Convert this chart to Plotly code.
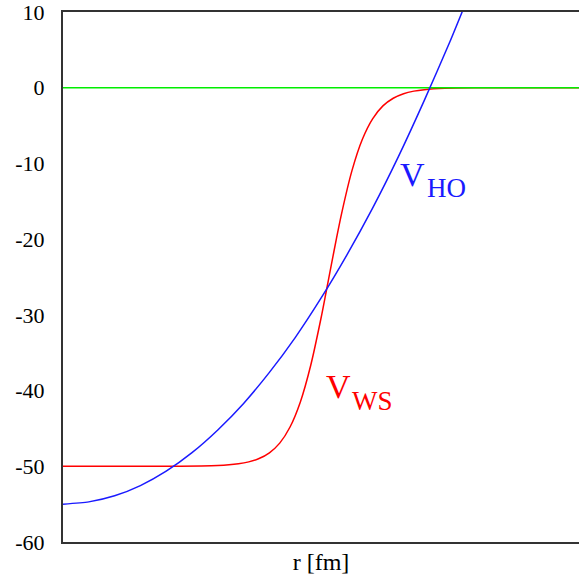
import plotly.graph_objects as go

# harmonic oscillator potential
r_ho = [0, 0.5, 1, 1.5, 2, 2.5, 3, 3.5, 4, 4.5, 5, 5.5, 6, 6.5, 7, 7.5, 7.8]
v_ho = [-55, -54.7, -53.9, -52.55, -50.65, -48.2, -45.2, -41.7, -37.6, -33.0,
        -27.8, -22.1, -15.9, -9.1, -1.7, 6.1, 11.1]

# Woods-Saxon potential
r_ws = [0, 1, 2, 3, 3.4, 3.6, 3.8, 4.0, 4.2, 4.4, 4.6, 4.8, 5.0, 5.1, 5.2,
        5.3, 5.4, 5.6, 5.8, 6.0, 6.2, 6.4, 6.6, 6.8, 7.0, 7.4, 8, 10]
v_ws = [-50, -50, -50, -49.9, -49.67, -49.42, -48.98, -48.22, -46.94, -44.81,
        -41.5, -36.69, -30.45, -26.95, -23.4, -19.9, -16.59, -10.95, -6.84,
        -4.11, -2.4, -1.39, -0.79, -0.45, -0.26, -0.08, -0.015, 0]

# zero line
r_zero = [0, 10]
v_zero = [0, 0]

y_ticks = [10, 0, -10, -20, -30, -40, -50, -60]

fig = go.Figure()
fig.add_trace(go.Scatter(x=r_ws, y=v_ws, mode="lines",
                         line=dict(color="#ff0000", width=1.5, shape="spline", smoothing=0.8)))
fig.add_trace(go.Scatter(x=r_zero, y=v_zero, mode="lines",
                         line=dict(color="#00ee00", width=1.5), hoverinfo="skip"))
fig.add_trace(go.Scatter(x=r_ho, y=v_ho, mode="lines",
                         line=dict(color="#1a1aff", width=1.5, shape="spline", smoothing=0.6)))

font_serif = "Liberation Serif"

fig.update_layout(
    width=579, height=584,
    margin=dict(l=63, r=0, t=12, b=42),
    plot_bgcolor="white", paper_bgcolor="white",
    showlegend=False,
    font=dict(family=font_serif, size=22, color="black"),
    xaxis=dict(range=[0, 10], showticklabels=False, ticks="", showgrid=False,
               zeroline=False, showline=True, linecolor="#333333", linewidth=2,
               mirror=True,
               title=dict(text="r [fm]", font=dict(family=font_serif, size=24),
                          standoff=10)),
    yaxis=dict(range=[-60, 10], tickvals=y_ticks, ticktext=[str(v) for v in y_ticks],
               ticks="", showgrid=False, zeroline=False, showline=True,
               linecolor="#333333", linewidth=2, ticklabelstandoff=12,
               ticklabeloverflow="allow",
               tickfont=dict(family=font_serif, size=22, color="black")),
)

# labels
fig.add_annotation(x=6.78, y=-11.4, xref="x", yref="y", text="V", showarrow=False,
                   font=dict(family=font_serif, size=34, color="#1a1aff"), xanchor="center")
fig.add_annotation(x=7.44, y=-13.25, xref="x", yref="y", text="HO", showarrow=False,
                   font=dict(family=font_serif, size=27, color="#1a1aff"), xanchor="center")
fig.add_annotation(x=5.33, y=-39.5, xref="x", yref="y", text="V", showarrow=False,
                   font=dict(family=font_serif, size=34, color="#ff0000"), xanchor="center")
fig.add_annotation(x=5.99, y=-41.4, xref="x", yref="y", text="WS", showarrow=False,
                   font=dict(family=font_serif, size=27, color="#ff0000"), xanchor="center")

fig.write_html("out.html")
